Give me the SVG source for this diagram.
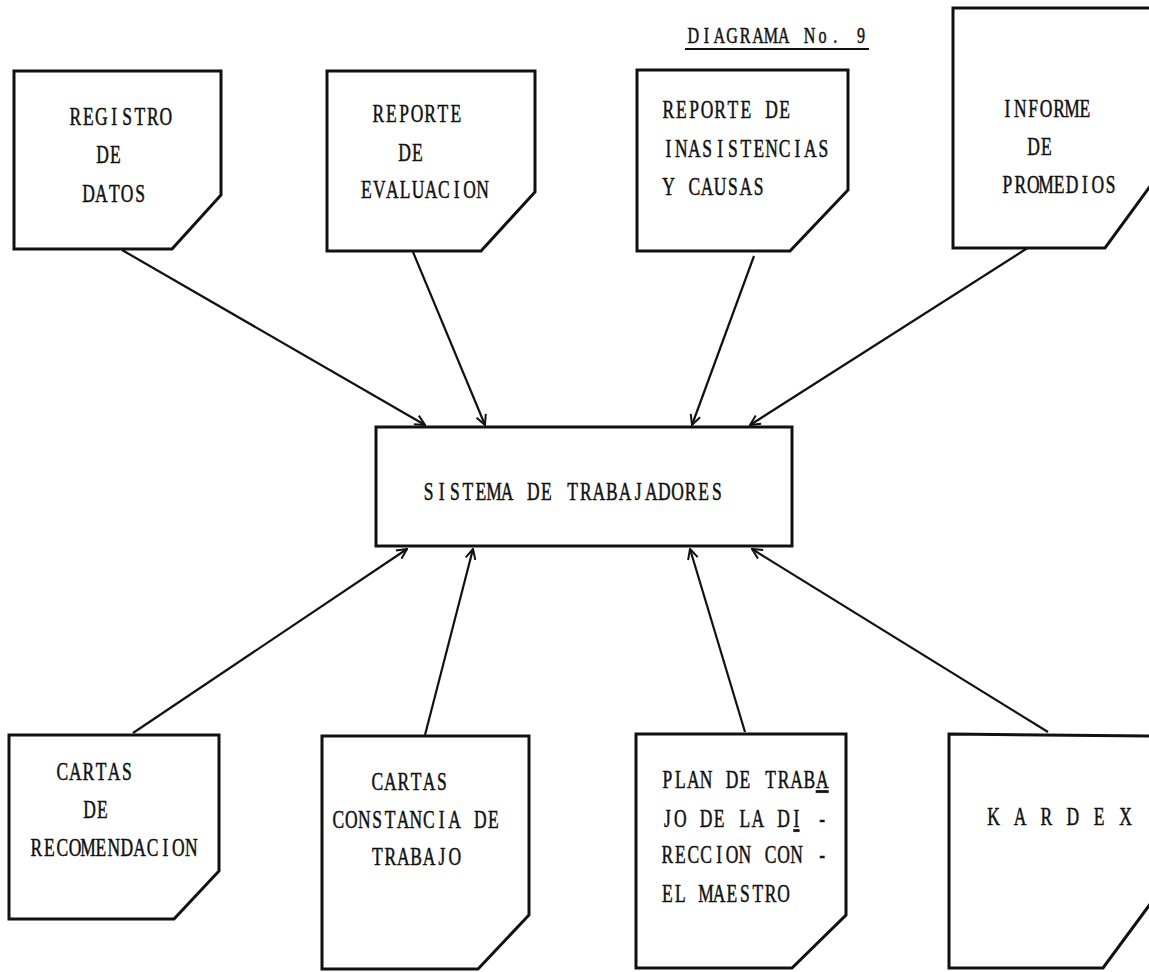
<svg xmlns="http://www.w3.org/2000/svg" width="1149" height="972" viewBox="0 0 1149 972">
  <style>
    .doc { fill: #fff; stroke: #111; stroke-width: 3; stroke-linejoin: miter; }
    .box { fill: #fff; stroke: #111; stroke-width: 3; }
    .link { fill: none; stroke: #111; stroke-width: 2.2; marker-end: url(#open); }
    /* typewriter look: condensed serif glyphs, each centred in a fixed-pitch cell */
    .t { font-family: "Liberation Serif", "Times New Roman", serif; font-size: 25px; fill: #111; stroke: #111; stroke-width: 0.5; text-anchor: middle; }
    .u { text-decoration: underline; }
    .rule { stroke: #111; stroke-width: 2; }
  </style>
  <defs>
    <marker id="open" viewBox="0 0 12 12" refX="11" refY="6" markerWidth="12" markerHeight="12" markerUnits="userSpaceOnUse" orient="auto">
      <path d="M1,1 L11,6 L1,11" fill="none" stroke="#111" stroke-width="2"/>
    </marker>
  </defs>
  <rect width="1149" height="972" fill="#fff"/>

  <!-- heading -->
  <g id="title">
    <text class="t" style="font-size:23px" transform="translate(687 43) scale(0.7 1)" x="9.21 27.64 46.07 64.5 82.93 101.36 119.79 138.21 156.64 175.07 193.5 211.93 230.36 248.79">DIAGRAMA No. 9</text>
    <line class="rule" x1="685" y1="49" x2="869" y2="49"/>
  </g>

  <!-- connectors -->
  <g id="connectors">
    <line class="link" x1="122" y1="250" x2="425" y2="425"/>
    <line class="link" x1="413" y1="252" x2="485" y2="425"/>
    <line class="link" x1="754" y1="256" x2="692" y2="425"/>
    <line class="link" x1="1037" y1="242" x2="750" y2="425"/>
    <line class="link" x1="133" y1="733" x2="407" y2="549"/>
    <line class="link" x1="425" y1="735" x2="473" y2="549"/>
    <line class="link" x1="745" y1="732" x2="690" y2="549"/>
    <line class="link" x1="1048" y1="732" x2="752" y2="549"/>
  </g>

  <!-- source documents, top row -->
  <g id="registro">
    <polygon class="doc" points="14,71 221,71 221,195 172,249 14,249"/>
    <text class="t" transform="translate(69 125) scale(0.7 1)" x="9.21 27.64 46.07 64.5 82.93 101.36 119.79 138.21">REGISTRO</text>
    <text class="t" transform="translate(96 163) scale(0.7 1)" x="9.21 27.64">DE</text>
    <text class="t" transform="translate(82 202) scale(0.7 1)" x="9.21 27.64 46.07 64.5 82.93">DATOS</text>
  </g>
  <g id="evaluacion">
    <polygon class="doc" points="327,71 535,71 535,192 481,251 327,251"/>
    <text class="t" transform="translate(372 122) scale(0.7 1)" x="9.21 27.64 46.07 64.5 82.93 101.36 119.79">REPORTE</text>
    <text class="t" transform="translate(398 161) scale(0.7 1)" x="9.21 27.64">DE</text>
    <text class="t" transform="translate(360 198) scale(0.7 1)" x="9.21 27.64 46.07 64.5 82.93 101.36 119.79 138.21 156.64 175.07">EVALUACION</text>
  </g>
  <g id="inasistencias">
    <polygon class="doc" points="637,70 848,70 848,190 790,251 637,251"/>
    <text class="t" transform="translate(662 118) scale(0.7 1)" x="9.21 27.64 46.07 64.5 82.93 101.36 119.79 138.21 156.64 175.07">REPORTE DE</text>
    <text class="t" transform="translate(662 157) scale(0.7 1)" x="9.21 27.64 46.07 64.5 82.93 101.36 119.79 138.21 156.64 175.07 193.5 211.93 230.36">INASISTENCIAS</text>
    <text class="t" transform="translate(662 195) scale(0.7 1)" x="9.21 27.64 46.07 64.5 82.93 101.36 119.79 138.21">Y CAUSAS</text>
  </g>
  <g id="promedios">
    <polygon class="doc" points="953,8 1162,8 1162,170 1105,248 953,248"/>
    <text class="t" transform="translate(1001 117) scale(0.7 1)" x="9.21 27.64 46.07 64.5 82.93 101.36 119.79">INFORME</text>
    <text class="t" transform="translate(1027 155) scale(0.7 1)" x="9.21 27.64">DE</text>
    <text class="t" transform="translate(1001 193) scale(0.7 1)" x="9.21 27.64 46.07 64.5 82.93 101.36 119.79 138.21 156.64">PROMEDIOS</text>
  </g>

  <!-- central system -->
  <g id="sistema">
    <rect class="box" x="376" y="427" width="416" height="119"/>
    <text class="t" transform="translate(422 500) scale(0.7 1)" x="9.36 28.07 46.79 65.5 84.21 102.93 121.64 140.36 159.07 177.79 196.5 215.21 233.93 252.64 271.36 290.07 308.79 327.5 346.21 364.93 383.64 402.36 421.07">SISTEMA DE TRABAJADORES</text>
  </g>

  <!-- output documents, bottom row -->
  <g id="recomendacion">
    <polygon class="doc" points="9,735 219,735 219,871 174,919 9,919"/>
    <text class="t" transform="translate(56 780) scale(0.7 1)" x="9.21 27.64 46.07 64.5 82.93 101.36">CARTAS</text>
    <text class="t" transform="translate(83 818) scale(0.7 1)" x="9.21 27.64">DE</text>
    <text class="t" transform="translate(30 856) scale(0.7 1)" x="9.21 27.64 46.07 64.5 82.93 101.36 119.79 138.21 156.64 175.07 193.5 211.93 230.36">RECOMENDACION</text>
  </g>
  <g id="constancia">
    <polygon class="doc" points="322,736 529,736 529,915 478,969 322,969"/>
    <text class="t" transform="translate(371 790) scale(0.7 1)" x="9.21 27.64 46.07 64.5 82.93 101.36">CARTAS</text>
    <text class="t" transform="translate(332 828) scale(0.7 1)" x="9.21 27.64 46.07 64.5 82.93 101.36 119.79 138.21 156.64 175.07 193.5 211.93 230.36">CONSTANCIA DE</text>
    <text class="t" transform="translate(371 865) scale(0.7 1)" x="9.21 27.64 46.07 64.5 82.93 101.36 119.79">TRABAJO</text>
  </g>
  <g id="plan">
    <polygon class="doc" points="636,734 846,734 846,915 792,968 636,968"/>
    <text class="t" transform="translate(661 788) scale(0.7 1)" x="9.21 27.64 46.07 64.5 82.93 101.36 119.79 138.21 156.64 175.07 193.5 211.93 230.36">PLAN DE TRAB<tspan class="u">A</tspan></text>
    <text class="t" transform="translate(661 827) scale(0.7 1)" x="9.21 27.64 46.07 64.5 82.93 101.36 119.79 138.21 156.64 175.07 193.5 211.93 230.36">JO DE LA D<tspan class="u">I</tspan> -</text>
    <text class="t" transform="translate(661 863) scale(0.7 1)" x="9.21 27.64 46.07 64.5 82.93 101.36 119.79 138.21 156.64 175.07 193.5 211.93 230.36">RECCION CON -</text>
    <text class="t" transform="translate(661 902) scale(0.7 1)" x="9.21 27.64 46.07 64.5 82.93 101.36 119.79 138.21 156.64 175.07">EL MAESTRO</text>
  </g>
  <g id="kardex">
    <polygon class="doc" points="949,734 1162,736 1162,888 1103,968 949,968"/>
    <text class="t" transform="translate(987 825) scale(0.7 1)" x="9.43 28.29 47.14 66 84.86 103.71 122.57 141.43 160.29 179.14 198">K A R D E X</text>
  </g>
</svg>
